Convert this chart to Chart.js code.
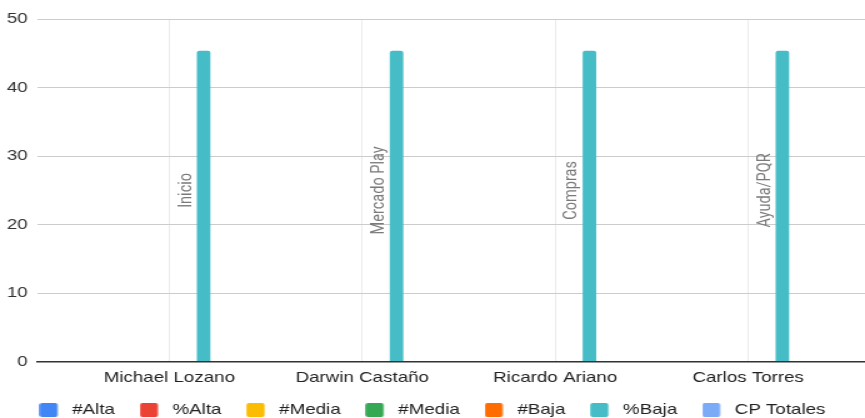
<!DOCTYPE html>
<html>
<head>
  <meta charset="utf-8">
  <title>Bajas por responsable</title>
  <script src="https://cdn.jsdelivr.net/npm/chart.js@4/dist/chart.umd.min.js"></script>
  <style>
    body { margin: 0; background: #fff; }
    #wrap {
      width: 692px;
      height: 418px;
      transform: scaleX(1.25);
      transform-origin: 0 0;
    }
  </style>
</head>
<body>
  <div id="wrap"><canvas id="chart" width="692" height="418"></canvas></div>
  <script>
    // data
    const categories = ["Michael Lozano", "Darwin Castaño", "Ricardo Ariano", "Carlos Torres"];
    const seriesNames = ["#Alta", "%Alta", "#Media", "#Media", "#Baja", "%Baja", "CP Totales"];
    const altaCount = [null, null, null, null];
    const altaPct = [null, null, null, null];
    const mediaCount = [null, null, null, null];
    const mediaCount2 = [null, null, null, null];
    const bajaCount = [null, null, null, null];
    const bajaPct = [45.4, 45.4, 45.4, 45.4];
    const cpTotales = [null, null, null, null];
    const bajaNotes = ["Inicio", "Mercado Play", "Compras", "Ayuda/PQR"];
    const yTicks = [0, 10, 20, 30, 40, 50];

    const seriesValues = [altaCount, altaPct, mediaCount, mediaCount2, bajaCount, bajaPct, cpTotales];
    const colors = ["#4285F4", "#EA4335", "#FBBC04", "#34A853", "#FF6D01", "#46BDC6", "#7BAAF7"];

    Chart.defaults.font.family = '"Liberation Sans", Arial, sans-serif';
    Chart.defaults.font.size = 15;

    // legend swatch: rounded square drawn into a small canvas
    function swatch(color) {
      const c = document.createElement("canvas");
      c.width = 19;
      c.height = 14;
      const g = c.getContext("2d");
      g.fillStyle = color;
      g.beginPath();
      g.roundRect(0.2, 0, 14.4, 14, 2);
      g.fill();
      return c;
    }
    const swatches = colors.map(swatch);

    const notesPlugin = {
      id: "bajaNotes",
      afterDatasetsDraw(chart) {
        const meta = chart.getDatasetMeta(5);
        const y = chart.scales.y.getPixelForValue(25);
        const ctx = chart.ctx;
        ctx.save();
        ctx.font = '14.5px Roboto';
        ctx.fillStyle = "#7a7a7a";
        ctx.textAlign = "center";
        ctx.textBaseline = "middle";
        meta.data.forEach((bar, i) => {
          ctx.save();
          ctx.translate(bar.x - 13.8, y);
          ctx.rotate(-Math.PI / 2);
          ctx.fillText(bajaNotes[i], 0, 0);
          ctx.restore();
        });
        ctx.restore();
      }
    };

    new Chart(document.getElementById("chart"), {
      type: "bar",
      data: {
        labels: categories.map((_, i) => i),
        datasets: seriesNames.map((name, i) => ({
          label: name,
          data: seriesValues[i],
          backgroundColor: colors[i],
          borderColor: colors[i],
          borderWidth: 0,
          borderRadius: 2,
          categoryPercentage: 0.622,
          barPercentage: 0.79
        }))
      },
      options: {
        responsive: false,
        animation: false,
        layout: { padding: { top: 19.3, left: 0, right: 0, bottom: 0 } },
        scales: {
          x: {
            type: "linear",
            offset: false,
            min: -0.682,
            max: 3.606,
            grid: { color: "#ebebeb", drawTicks: false, offset: false },
            border: { display: true, color: "#333333", width: 1.5 },
            ticks: {
              stepSize: 1,
              includeBounds: false,
              autoSkip: false,
              maxRotation: 0,
              padding: 7,
              color: "#222222",
              callback: (v) => categories[v] ?? ""
            },
            afterFit: (s) => { s.height = 21; }
          },
          y: {
            min: 0,
            max: 50,
            grid: { color: "#cccccc", drawTicks: false },
            border: { display: false },
            ticks: {
              stepSize: 10,
              padding: 8,
              color: "#333333",
              callback: (v) => yTicks.includes(v) ? v : ""
            },
            afterFit: (s) => { s.width = 30.2; }
          }
        },
        plugins: {
          legend: {
            position: "bottom",
            maxHeight: 35.5,
            labels: {
              usePointStyle: true,
              pointStyleWidth: 18.6,
              padding: 20,
              color: "#222222",
              font: { size: 15 },
              generateLabels: (chart) =>
                Chart.defaults.plugins.legend.labels.generateLabels(chart)
                  .map((l) => ({ ...l, pointStyle: swatches[l.datasetIndex] }))
            }
          },
          tooltip: { enabled: false }
        }
      },
      plugins: [notesPlugin]
    });
  </script>
</body>
</html>
